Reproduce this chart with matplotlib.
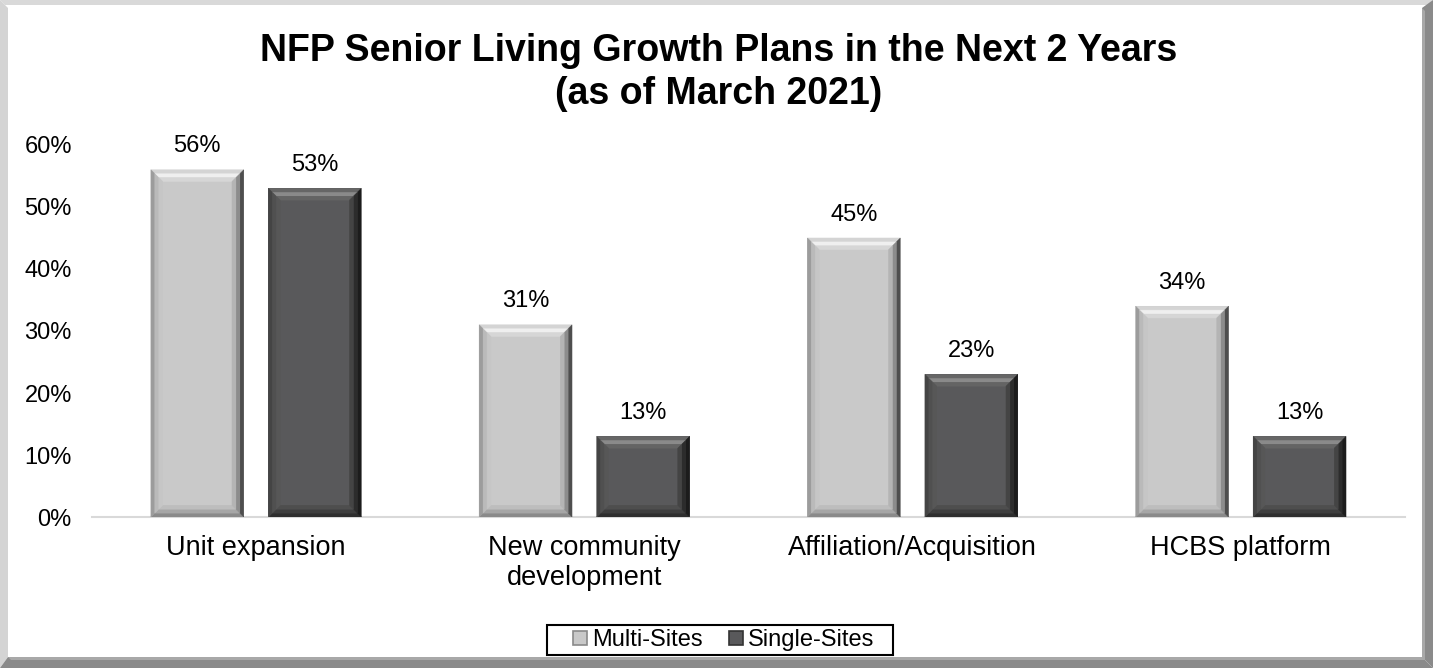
import matplotlib
matplotlib.use("Agg")
import matplotlib.pyplot as plt
import numpy as np
from matplotlib.patches import Polygon, Rectangle
from matplotlib.lines import Line2D

plt.rcParams['font.family'] = ['Liberation Sans', 'DejaVu Sans']

categories = ["Unit expansion", "New community\ndevelopment", "Affiliation/Acquisition", "HCBS platform"]
multi_sites = [0.56, 0.31, 0.45, 0.34]
single_sites = [0.53, 0.13, 0.23, 0.13]
series_names = ["Multi-Sites", "Single-Sites"]
yticks = [0, 0.1, 0.2, 0.3, 0.4, 0.5, 0.6]

LIGHT = "#c9c9c9"
DARK = "#59595b"

# bevel band colours, outer -> inner: top, left, right, bottom
LIGHT_BEVEL = {
    "top": ["#d4d4d4", "#efefef", "#d6d6d6"],
    "left": ["#9c9c9c", "#bababa", "#c6c6c6"],
    "right": ["#4e4e4e", "#8c8c8c", "#b4b4b4"],
    "bottom": ["#8a8a8a", "#a6a6a6", "#bdbdbd"],
}
DARK_BEVEL = {
    "top": ["#666666", "#8a8a8a", "#646464"],
    "left": ["#444444", "#505050", "#575757"],
    "right": ["#1c1c1c", "#2c2c2c", "#444444"],
    "bottom": ["#2e2e2e", "#3e3e3e", "#4e4e4e"],
}


def bevel_bar(ax, xc, w, h, color, bev):
    x0, x1 = xc - w / 2, xc + w / 2
    dx, dy = 0.036, 0.019
    ax.bar(xc, h, w, color=color, zorder=2)
    n = len(bev["top"])
    for k in range(n):
        a, b = k / n, (k + 1) / n
        ox0, ox1, oy0, oy1 = x0 + a * dx, x1 - a * dx, a * dy, h - a * dy
        ix0, ix1, iy0, iy1 = x0 + b * dx, x1 - b * dx, b * dy, h - b * dy
        sides = {
            "top": [(ox0, oy1), (ox1, oy1), (ix1, iy1), (ix0, iy1)],
            "bottom": [(ox0, oy0), (ox1, oy0), (ix1, iy0), (ix0, iy0)],
            "left": [(ox0, oy0), (ox0, oy1), (ix0, iy1), (ix0, iy0)],
            "right": [(ox1, oy0), (ox1, oy1), (ix1, iy1), (ix1, iy0)],
        }
        for side, pts in sides.items():
            ax.add_patch(Polygon(pts, closed=True, facecolor=bev[side][k],
                                 edgecolor=bev[side][k], lw=0.3, zorder=3))


fig = plt.figure(figsize=(14.37, 6.68), dpi=100)
ax = fig.add_axes([0.064, 0.226, 0.9137, 0.557])

x = np.arange(len(categories))
w = 0.283
off = 0.179
for i in x:
    bevel_bar(ax, i - off, w, multi_sites[i], LIGHT, LIGHT_BEVEL)
    bevel_bar(ax, i + off, w, single_sites[i], DARK, DARK_BEVEL)
    ax.text(i - off, multi_sites[i] + 0.02, f"{multi_sites[i]:.0%}", ha="center", va="bottom", fontsize=17)
    ax.text(i + off, single_sites[i] + 0.02, f"{single_sites[i]:.0%}", ha="center", va="bottom", fontsize=17)

ax.set_xlim(-0.5, len(categories) - 0.5)
ax.set_ylim(0, 0.6)
ax.set_yticks(yticks)
ax.set_yticklabels([f"{v:.0%}" for v in yticks], fontsize=17)
ax.set_xticks(x)
ax.set_xticklabels(categories, fontsize=19.5, va="top", linespacing=1.2)
ax.tick_params(length=0)
ax.tick_params(axis="y", pad=14.5)
ax.tick_params(axis="x", pad=13)
for s in ["top", "left", "right"]:
    ax.spines[s].set_visible(False)
ax.spines["bottom"].set_color("#d9d9d9")
ax.spines["bottom"].set_linewidth(1.5)

fig.text(0.5, 0.892, "NFP Senior Living Growth Plans in the Next 2 Years\n(as of March 2021)",
         ha="center", va="center", fontsize=27, fontweight="bold", linespacing=1.25)

W, H = 1437, 668

handles = [Line2D([], [], ls="none", marker="s", ms=10, mfc=LIGHT, mec="#8a8a8a", mew=1.2),
           Line2D([], [], ls="none", marker="s", ms=10, mfc=DARK, mec="#333333", mew=1.2)]
leg = fig.legend(handles, series_names, loc="center", bbox_to_anchor=(723.5 / W, 1 - 640 / H), ncol=2,
                 fontsize=17, frameon=False, handlelength=0.63, handletextpad=0.2,
                 columnspacing=1.1, borderpad=0.2)
fig.patches.append(Rectangle((547 / W, 1 - 655 / H), 346 / W, 30 / H, fill=False,
                             edgecolor="black", lw=1.5, transform=fig.transFigure, figure=fig))

# bevelled outer frame
b = 8
r = 11
R = W - 4
def fpoly(pts, c):
    fig.patches.append(Polygon([(px / W, 1 - py / H) for px, py in pts], closed=True,
                               color=c, lw=0, transform=fig.transFigure, figure=fig))
fpoly([(0, 0), (R, 0), (R - 5, 5), (5, 5)], "#d9d9d9")
fpoly([(0, 0), (b, b), (b, H - r), (0, H)], "#d4d4d4")
fpoly([(R, 0), (R, H), (R - r, H - r), (R - r, b)], "#8a8a8a")
fpoly([(0, H), (R, H), (R - r, H - r), (b, H - r)], "#8a8a8a")
fpoly([(R - r, b), (R - r + 3, b + 3), (R - r + 3, H - r + 3), (R - r, H - r)], "#a8a8a8")
fpoly([(b, H - r), (R - r, H - r), (R - r + 3, H - r + 3), (b + 3, H - r + 3)], "#a8a8a8")

fig.savefig("out.png", dpi=100)
